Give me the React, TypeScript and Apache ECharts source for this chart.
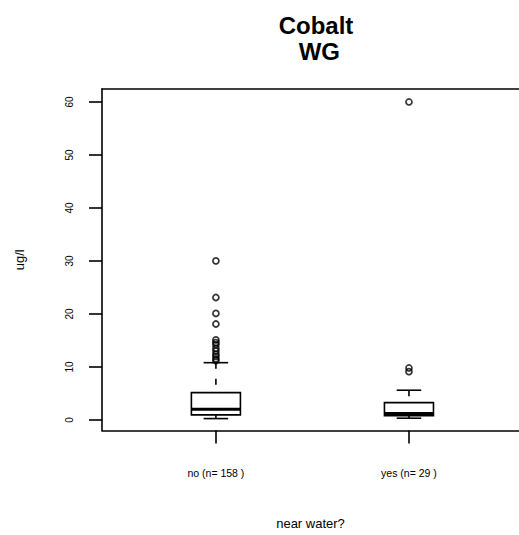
import React, { useEffect, useRef } from "react";
import * as echarts from "echarts";

const titleText = "Cobalt\n WG";
const groupNames = ["no", "yes"];
const groupCounts = [158, 29];
// [low whisker, Q1, median, Q3, high whisker]
const boxNo = [0.25, 0.94, 2.0, 5.15, 10.8];
const boxYes = [0.32, 0.8, 1.2, 3.26, 5.6];
const outliersNo = [30, 23.1, 20.1, 18.1, 15.1, 14.6, 14.2, 13.5, 13.0, 12.4, 12.0, 11.5, 11.2];
const outliersYes = [60, 9.8, 9.1];
const yTicks = [0, 10, 20, 30, 40, 50, 60];
const yName = "ug/l";
const xName = "near water?";

const FONT = "'Liberation Sans', Arial, Helvetica, sans-serif";

export default function App() {
  const ref = useRef<HTMLDivElement>(null);
  useEffect(() => {
    if (!ref.current) return;
    const chart = echarts.init(ref.current, null, { renderer: "svg" });
    const boxes = [boxNo, boxYes];
    const boxData = boxes.map((b, i) => [i + 1, ...b]);
    const outData: number[][] = [];
    outliersNo.forEach((v) => outData.push([1, v]));
    outliersYes.forEach((v) => outData.push([2, v]));
    const labels = groupNames.map((n, i) => `${n} (n= ${groupCounts[i]} )`);

    const option: any = {
      animation: false,
      backgroundColor: "#ffffff",
      title: {
        text: titleText,
        left: 311,
        top: 7,
        textAlign: "center",
        textStyle: {
          fontFamily: FONT,
          fontSize: 24,
          fontWeight: "bold",
          lineHeight: 26,
          color: "#000",
        },
      },
      grid: { left: 102, top: 89, right: 0, bottom: 535 - 430.5, containLabel: false },
      xAxis: [
        {
          type: "value",
          min: 0.41,
          max: 2.57,
          position: "bottom",
          name: xName,
          nameLocation: "middle",
          nameGap: 86,
          nameTextStyle: { fontFamily: FONT, fontSize: 13, color: "#000" },
          axisLine: { show: true, onZero: false, lineStyle: { color: "#000", width: 1.6 } },
          axisTick: { show: true, length: 13, customValues: [1, 2], lineStyle: { color: "#000", width: 1.6 } },
          axisLabel: {
            show: true,
            customValues: [1, 2],
            margin: 37,
            fontFamily: FONT,
            fontSize: 10.5,
            color: "#000",
            formatter: (v: number) => labels[Math.round(v) - 1] ?? "",
          },
          splitLine: { show: false },
        },
        {
          type: "value",
          min: 0.41,
          max: 2.57,
          position: "top",
          axisLine: { show: true, onZero: false, lineStyle: { color: "#000", width: 1.6 } },
          axisTick: { show: false },
          axisLabel: { show: false },
          splitLine: { show: false },
        },
      ],
      yAxis: {
        type: "value",
        min: -2,
        max: 62.45,
        name: yName,
        nameLocation: "middle",
        nameRotate: 90,
        nameGap: 76,
        nameTextStyle: { fontFamily: FONT, fontSize: 13, color: "#000" },
        axisLine: { show: true, onZero: false, lineStyle: { color: "#000", width: 1.6 } },
        axisTick: { show: true, length: 13, customValues: yTicks, lineStyle: { color: "#000", width: 1.6 } },
        axisLabel: {
          show: true,
          customValues: yTicks,
          rotate: 90,
          margin: 28,
          fontFamily: FONT,
          fontSize: 10,
          color: "#000",
        },
        splitLine: { show: false },
      },
      series: [
        {
          type: "custom",
          xAxisIndex: 0,
          data: boxData,
          renderItem: (params: any, api: any) => {
            const x = api.value(0);
            const low = api.coord([x, api.value(1)]);
            const q1 = api.coord([x, api.value(2)]);
            const med = api.coord([x, api.value(3)]);
            const q3 = api.coord([x, api.value(4)]);
            const high = api.coord([x, api.value(5)]);
            const bw = api.size([0.254, 0])[0];
            const hw = bw / 2;
            const cw = bw / 4;
            const cx = low[0];
            const stroke = { stroke: "#000", lineWidth: 1.6, fill: "none" };
            return {
              type: "group",
              children: [
                {
                  type: "line",
                  shape: { x1: cx, y1: high[1], x2: cx, y2: q3[1] },
                  style: { stroke: "#000", lineWidth: 1.6, lineDash: [6, 10] },
                },
                {
                  type: "line",
                  shape: { x1: cx, y1: low[1], x2: cx, y2: q1[1] },
                  style: { stroke: "#000", lineWidth: 1.6, lineDash: [6, 10] },
                },
                {
                  type: "line",
                  shape: { x1: cx - cw, y1: high[1], x2: cx + cw, y2: high[1] },
                  style: stroke,
                },
                {
                  type: "line",
                  shape: { x1: cx - cw, y1: low[1], x2: cx + cw, y2: low[1] },
                  style: stroke,
                },
                {
                  type: "rect",
                  shape: { x: cx - hw, y: q3[1], width: bw, height: q1[1] - q3[1] },
                  style: { stroke: "#000", lineWidth: 1.6, fill: "#fff" },
                },
                {
                  type: "line",
                  shape: { x1: cx - hw, y1: med[1], x2: cx + hw, y2: med[1] },
                  style: { stroke: "#000", lineWidth: 3 },
                },
              ],
            };
          },
        },
        {
          type: "scatter",
          xAxisIndex: 0,
          data: outData,
          symbol: "circle",
          symbolSize: 6,
          itemStyle: { color: "rgba(0,0,0,0)", borderColor: "#000", borderWidth: 1.7 },
        },
      ],
    };
    chart.setOption(option);
    return () => chart.dispose();
  }, []);
  return (
    <div
      ref={ref}
      style={{ position: "absolute", left: 0, top: 0, width: 519, height: 535 }}
    />
  );
}
